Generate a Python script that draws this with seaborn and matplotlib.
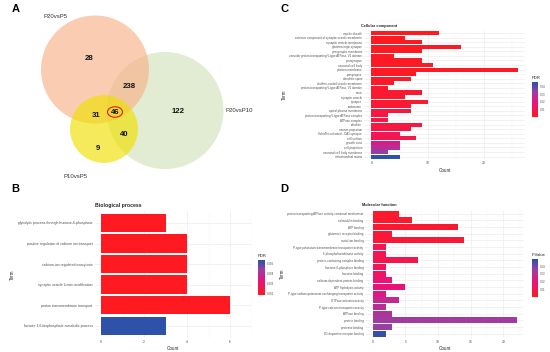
import numpy as np
import matplotlib
matplotlib.use("Agg")
import matplotlib.pyplot as plt
import seaborn as sns
from matplotlib.patches import Circle, Ellipse
from matplotlib.colors import LinearSegmentedColormap, Normalize
from matplotlib.cm import ScalarMappable

# Venn diagram (panel A)
venn_names = ["P20vsP5", "P20vsP10", "P10vsP5"]
venn_counts = [28, 238, 122, 46, 31, 40, 9]

# Panel B - biological process
bp_terms = [
    "glycolytic process through fructose-6-phosphate",
    "positive regulation of calcium ion transport",
    "calcium-ion regulated exocytosis",
    "synaptic vesicle lumen acidification",
    "proton transmembrane transport",
    "fructose 1,6-bisphosphate metabolic process",
]
bp_counts = [3, 4, 4, 4, 6, 3]
bp_fdr = [0.0019, 0.0019, 0.0019, 0.0019, 0.0019, 0.0053]

# Panel C - cellular component
cc_terms = [
    "myelin sheath",
    "extrinsic component of synaptic vesicle membrane",
    "synaptic vesicle membrane",
    "glutamatergic synapse",
    "presynaptic membrane",
    "vacuolar proton-transporting V-type ATPase, V1 domain",
    "postsynapse",
    "neuronal cell body",
    "plasma membrane",
    "presynapse",
    "dendritic spine",
    "clathrin-coated vesicle membrane",
    "proton-transporting V-type ATPase, V1 domain",
    "axon",
    "synaptic vesicle",
    "synapse",
    "endosome",
    "apical plasma membrane",
    "proton-transporting V-type ATPase complex",
    "ATPase complex",
    "dendrite",
    "neuron projection",
    "Schaffer collateral - CA1 synapse",
    "cell surface",
    "growth cone",
    "cell projection",
    "neuronal cell body membrane",
    "mitochondrial matrix",
]
cc_counts = [12, 6, 9, 16, 9, 4, 9, 11, 26, 8, 7, 4, 3, 9,
             6, 10, 7, 7, 3, 3, 9, 7, 5, 8, 5, 5, 3, 5]
cc_fdr = [0.0005, 0.0006, 0.0007, 0.0008, 0.0009, 0.001, 0.0012, 0.0013,
          0.0014, 0.0016, 0.002, 0.0025, 0.003, 0.004, 0.003, 0.003,
          0.005, 0.006, 0.007, 0.007, 0.006, 0.008, 0.011, 0.009,
          0.022, 0.028, 0.034, 0.045]

# Panel D - molecular function
mf_terms = [
    "proton-transporting ATPase activity, rotational mechanism",
    "calmodulin binding",
    "ATP binding",
    "glutamate receptor binding",
    "metal ion binding",
    "P-type potassium transmembrane transporter activity",
    "6-phosphofructokinase activity",
    "protein-containing complex binding",
    "fructose-6-phosphate binding",
    "fructose binding",
    "calcium-dependent protein binding",
    "ATP hydrolysis activity",
    "P-type sodium:potassium-exchanging transporter activity",
    "GTPase activator activity",
    "P-type calcium transporter activity",
    "ATPase binding",
    "protein binding",
    "protease binding",
    "D1 dopamine receptor binding",
]
mf_counts = [4, 6, 13, 3, 14, 2, 2, 7, 2, 2, 3, 5, 2, 4, 2, 3, 22, 3, 2]
mf_pval = [0.003, 0.004, 0.004, 0.005, 0.005, 0.011, 0.011, 0.01, 0.012,
           0.014, 0.018, 0.019, 0.022, 0.028, 0.03, 0.032, 0.034, 0.036, 0.047]

go_cmap = LinearSegmentedColormap.from_list(
    "go", [(0, "#ff1a1f"), (0.4, "#e8137c"), (0.72, "#9c3ea4"), (1, "#2553a8")])

sns.set_theme(style="white")
plt.rcParams["font.family"] = ["Liberation Sans", "DejaVu Sans"]

fig = plt.figure(figsize=(5.5, 3.52), dpi=100)

# overlay for venn and panel letters, 1 unit = 1 pixel
ov = fig.add_axes([0, 0, 1, 1])
ov.set_xlim(0, 550)
ov.set_ylim(352, 0)
ov.axis("off")
ov.patch.set_visible(False)

ov.add_patch(Circle((165, 110.5), 58.5, facecolor="#cfe0b6", alpha=0.6, lw=0))
ov.add_patch(Circle((95, 69.5), 54, facecolor="#f8ad80", alpha=0.6, lw=0))
ov.add_patch(Circle((104, 129), 34, facecolor="#f0e000", alpha=0.65, lw=0))

num_pos = [(89, 59), (129.5, 86), (178, 111.5), (115, 112), (96.5, 115.5), (124, 134), (98, 149)]
for (x, y), n in zip(num_pos, venn_counts):
    ov.text(x, y, str(n), ha="center", va="center", fontsize=5.6, fontweight="bold", color="#111111")
ov.add_patch(Ellipse((115, 112), 15, 10.5, facecolor="none", edgecolor="#e0201b", lw=0.8))

ov.text(43, 16.5, venn_names[0], ha="left", va="center", fontsize=4.3, color="#333333")
ov.text(226, 111, venn_names[1], ha="left", va="center", fontsize=4.3, color="#333333")
ov.text(63, 176, venn_names[2], ha="left", va="center", fontsize=4.3, color="#333333")

for letter, (x, y) in zip("ABCD", [(15.5, 8.5), (15.5, 189), (284.5, 9), (284.5, 189)]):
    ov.text(x, y, letter, ha="center", va="center", fontsize=8, fontweight="bold", color="black")


def draw_go(rect, terms, counts, pvals, norm, title, title_size, label_size, xticks,
            cax_rect, cbar_title, cticks, cticklabels):
    ax = fig.add_axes(rect)
    colors = [go_cmap(norm(p)) for p in pvals]
    sns.barplot(x=counts, y=terms, hue=terms, palette=colors, legend=False,
                dodge=False, width=0.9, linewidth=0, saturation=1, orient="h", ax=ax)
    n = len(terms)
    cmax = max(counts)
    ax.set_xlim(-0.05 * cmax, 1.05 * cmax)
    ax.set_ylim(n - 0.4, -0.6)
    ax.set_xticks(xticks)
    step = xticks[1] - xticks[0]
    ax.set_xticks([t + step / 2 for t in xticks], minor=True)
    ax.set_axisbelow(True)
    ax.grid(True, which="major", color="#ebebeb", lw=0.45)
    ax.grid(True, which="minor", axis="x", color="#f2f2f2", lw=0.3)
    for s in ax.spines.values():
        s.set_visible(False)
    ax.tick_params(axis="both", which="both", length=0, pad=1.5)
    ax.tick_params(axis="y", labelsize=label_size, labelcolor="#4d4d4d")
    ax.tick_params(axis="x", labelsize=2.4, labelcolor="#4d4d4d")
    ax.set_xlabel("Count", fontsize=3.3, labelpad=1.5)
    ax.set_ylabel("Term", fontsize=3.3, labelpad=2)
    ax.set_title(title, fontsize=title_size, fontweight="bold", loc="left", pad=2.5,
                 x=-0.02 if title_size < 3.5 else 0.0)

    cax = fig.add_axes(cax_rect)
    cb = fig.colorbar(ScalarMappable(norm=norm, cmap=go_cmap), cax=cax)
    cb.outline.set_visible(False)
    cb.set_ticks(cticks)
    cb.set_ticklabels(cticklabels)
    cax.tick_params(length=0, labelsize=2.1, pad=1.5, labelcolor="#4d4d4d")
    cax.set_title(cbar_title, fontsize=3.1, loc="left", pad=2)
    return ax


draw_go([0.172, 0.0395, 0.2858, 0.3622], bp_terms, bp_counts, bp_fdr,
        Normalize(0.00187, 0.00537), "Biological process", 3.7, 2.5, [0, 2, 4, 6],
        [0.469, 0.162, 0.0127, 0.0994], "FDR",
        [0.002, 0.003, 0.004, 0.005], ["0.002", "0.003", "0.004", "0.005"])

draw_go([0.662, 0.5472, 0.2925, 0.3668], cc_terms, cc_counts, cc_fdr,
        Normalize(0.0002, 0.046), "Cellular component", 2.8, 2.1, [0, 10, 20],
        [0.967, 0.6685, 0.011, 0.0986], "FDR",
        [0.01, 0.02, 0.03, 0.04], ["0.01", "0.02", "0.03", "0.04"])

draw_go([0.6645, 0.0406, 0.2878, 0.3636], mf_terms, mf_counts, mf_pval,
        Normalize(0.0002, 0.049), "Molecular function", 2.8, 2.05, [0, 5, 10, 15, 20],
        [0.967, 0.156, 0.011, 0.108], "P.Value",
        [0.01, 0.02, 0.03, 0.04], ["0.01", "0.02", "0.03", "0.04"])

fig.savefig("out.png", dpi=100)
